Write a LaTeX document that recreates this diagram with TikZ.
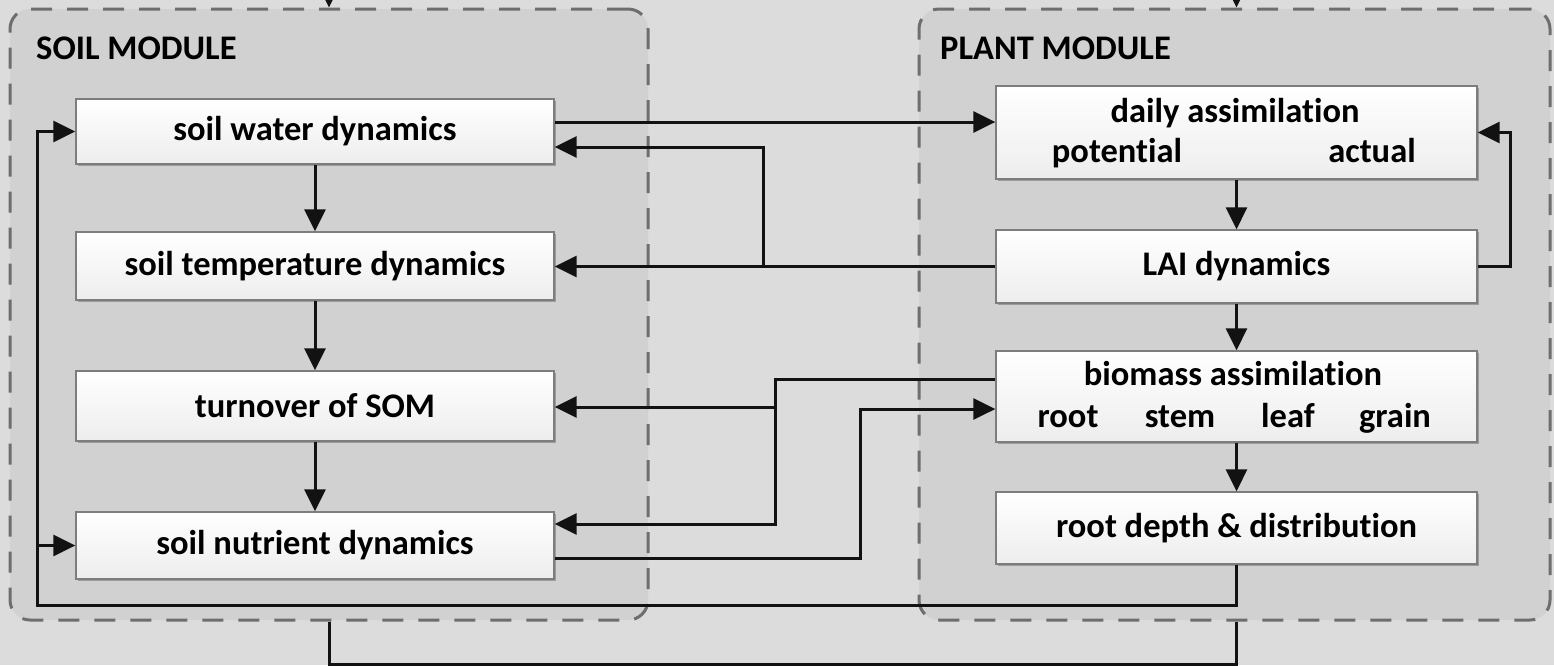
\documentclass[tikz,border=0pt]{standalone}
\usepackage{fontspec}
\setmainfont[Ligatures=NoCommon]{Carlito}
\usetikzlibrary{arrows.meta,shadows,calc}
\definecolor{bgout}{RGB}{220,220,220}
\definecolor{bgin}{RGB}{209,209,209}
\definecolor{dashc}{RGB}{110,110,110}
\definecolor{boxb}{RGB}{125,125,125}
\definecolor{linec}{RGB}{18,18,18}
\begin{document}
\begin{tikzpicture}[x=1pt,y=-1pt,
  font=\fontsize{34.5}{40}\selectfont\bfseries,
  module/.style={draw=dashc, line width=3pt, dash pattern=on 21pt off 15pt,
    rounded corners=20pt, fill=bgin, inner sep=0pt},
  stepbox/.style={draw=boxb, line width=1.3pt, top color=white, bottom color=black!7,
    drop shadow={shadow xshift=2pt, shadow yshift=-2pt, opacity=0.25, fill=black},
    inner sep=0pt, text=black},
  arr/.style={draw=linec, line width=3pt, line join=miter, -{Triangle[length=22pt,width=21pt]}},
  ln/.style={draw=linec, line width=3pt, line join=miter},
  lbl/.style={inner sep=0pt, anchor=base, text=black},
  modlbl/.style={inner sep=0pt, anchor=base west, text=black}]
\useasboundingbox (0,0) rectangle (1554,665);
\clip (0,0) rectangle (1554,665);
\fill[bgout] (0,0) rectangle (1554,665);

% modules
\node[module, minimum width=638pt, minimum height=611pt] (soilmod) at (329,314.5) {};
\node[module, minimum width=631pt, minimum height=611pt] (plantmod) at (1234.5,314.5) {};
\node[modlbl] (soillbl) at (36,59) {SOIL MODULE};
\node[modlbl] (plantlbl) at (940,59) {PLANT MODULE};

% soil boxes
\node[stepbox, minimum width=478pt, minimum height=65pt] (water) at (315,131.5) {soil water dynamics};
\node[stepbox, minimum width=478pt, minimum height=68pt] (temp) at (315,266) {soil temperature dynamics};
\node[stepbox, minimum width=478pt, minimum height=70pt] (som) at (315,406) {turnover of SOM};
\node[stepbox, minimum width=478pt, minimum height=67pt] (nutr) at (315,545.5) {soil nutrient dynamics};

% plant boxes
\node[stepbox, minimum width=481pt, minimum height=93pt] (daily) at (1236.5,132.5) {};
\node[lbl] (dailyt) at (1235,122) {daily assimilation};
\node[lbl] (pot) at (1117,162) {potential};
\node[lbl] (act) at (1372,162) {actual};
\node[stepbox, minimum width=481pt, minimum height=73pt] (lai) at (1236.5,266.5) {LAI dynamics};
\node[stepbox, minimum width=481pt, minimum height=91pt] (bio) at (1236.5,396.5) {};
\node[lbl] (biot) at (1233,385) {biomass assimilation};
\node[lbl] (broot) at (1068,427) {root};
\node[lbl] (bstem) at (1180,427) {stem};
\node[lbl] (bleaf) at (1288,427) {leaf};
\node[lbl] (bgrain) at (1395,427) {grain};
\node[stepbox, minimum width=481pt, minimum height=72pt] (root) at (1236.5,528) {root depth \& distribution};

% vertical arrows
\draw[arr] (water) -- (temp);
\draw[arr] (temp) -- (som);
\draw[arr] (som) -- (nutr);
\draw[arr] (daily) -- (lai);
\draw[arr] (lai) -- (bio);
\draw[arr] (bio) -- (root);

% soil water -> daily assimilation
\draw[arr] ([yshift=9.5pt]water.east) -- ([yshift=9.5pt]water.east -| daily.west);
% LAI -> soil temperature, branch to soil water
\coordinate (j1) at (763,266.5);
\draw[arr] (lai.west) -- (lai.west -| temp.east);
\draw[arr] (j1) |- ([yshift=-15.5pt]water.east);
% LAI -> daily (right loop)
\draw[arr] (lai.east) -- ++(33,0) |- (daily.east);
% biomass -> nutrient, branch to SOM
\coordinate (j2) at (775,407);
\draw[arr] ([yshift=17.5pt]bio.west) -| (775,524) -- ([yshift=21.5pt]nutr.east);
\draw[arr] (j2) -- (j2 -| som.east);
% nutrient -> biomass
\draw[arr] ([yshift=-12.5pt]nutr.east) -| (860,409) -- ([yshift=-12.5pt]bio.west);
% root depth -> soil water & nutrient
\coordinate (j3) at (37,545.5);
\draw[arr] (root.south) |- (37,605) |- (water.west);
\draw[arr] (j3) -- (nutr.west);
% bottom link between modules
\draw[ln] (soilmod.south) -- ++(0,43) -| (plantmod.south -| root.south);
% arrows entering from the top
\coordinate (t1) at (329,-13);
\coordinate (t2) at (1236.5,-13);
\draw[arr] (t1) -- (t1 |- soilmod.north);
\draw[arr] (t2) -- (t2 |- plantmod.north);
\end{tikzpicture}
\end{document}
